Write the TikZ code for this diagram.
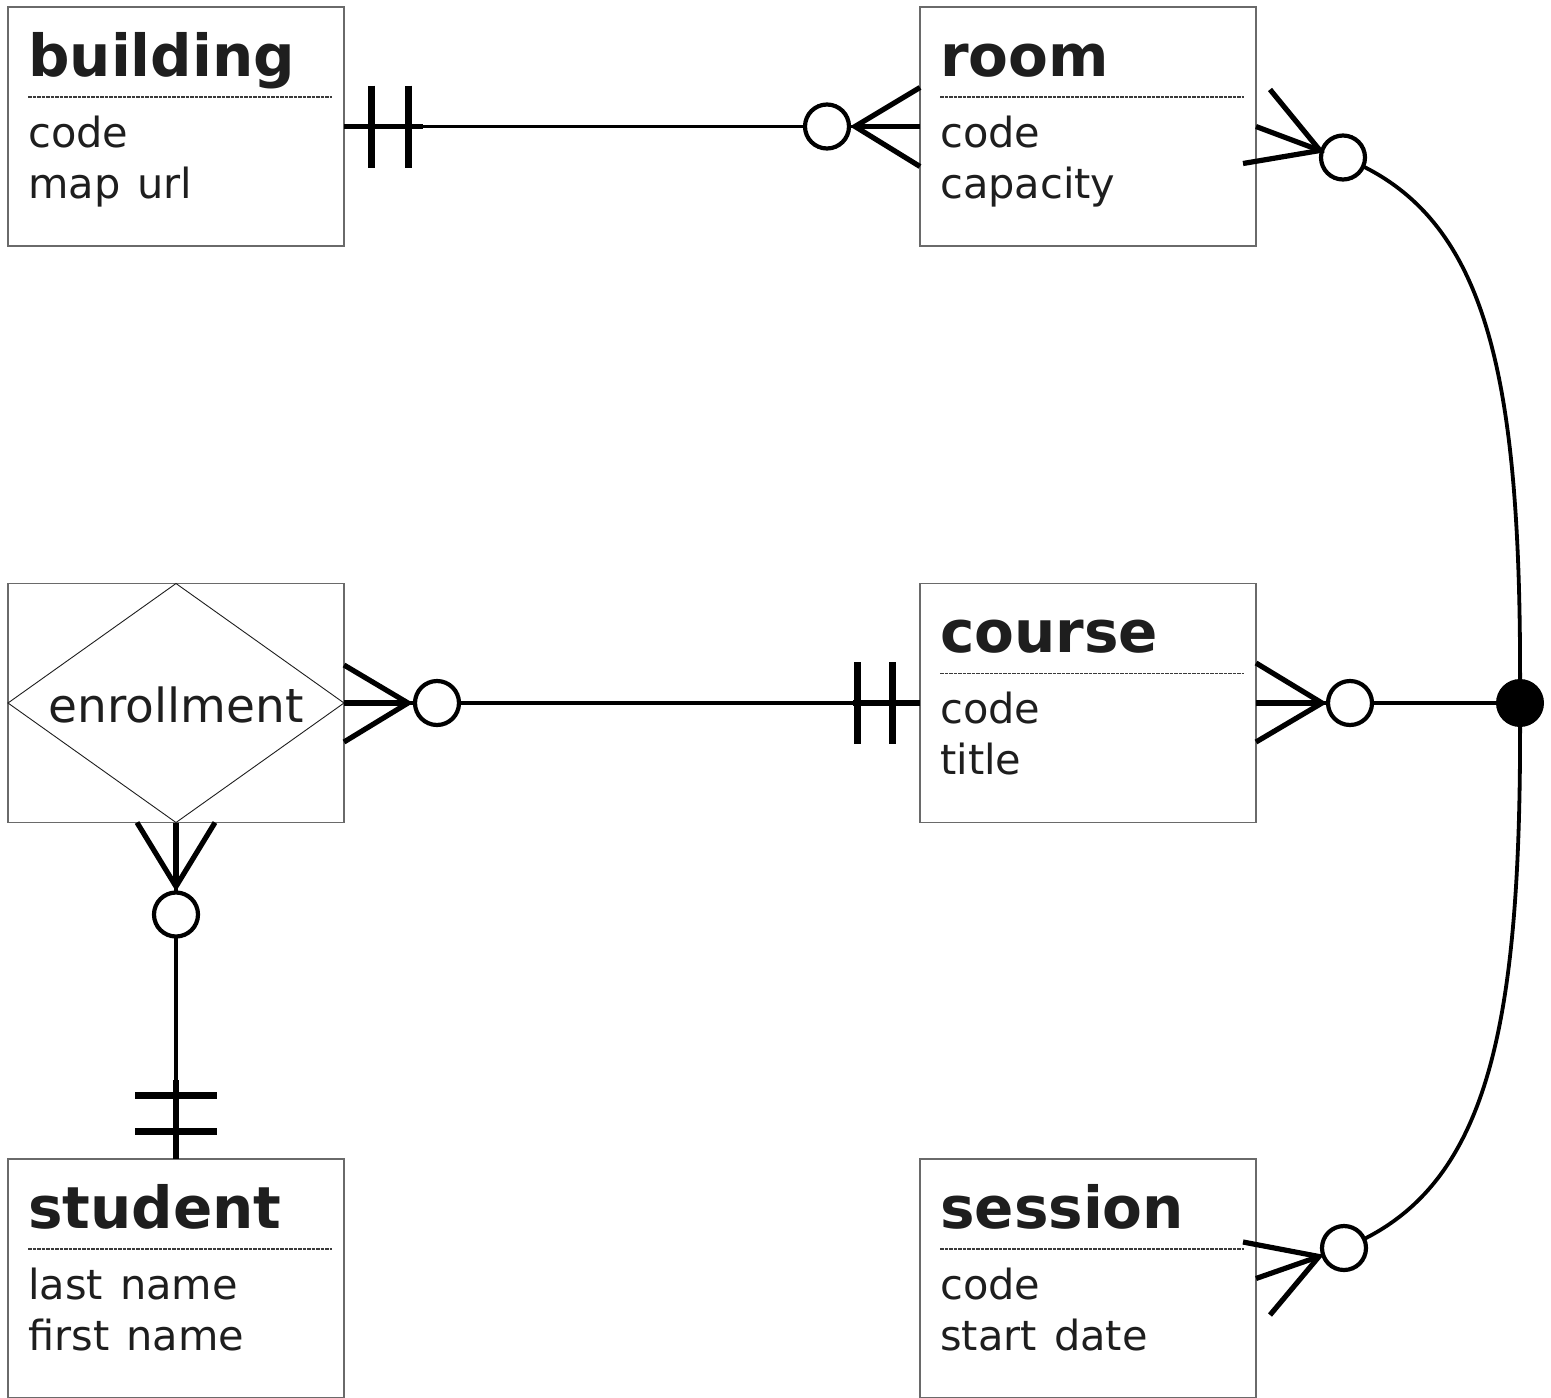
\documentclass[tikz,border=0pt]{standalone}
\usepackage{fontspec}
\setmainfont[WordSpace=1.3]{DejaVu Sans}
\usetikzlibrary{calc}
\definecolor{txt}{HTML}{1E1E1E}
\definecolor{frame}{HTML}{6A6A6A}
\definecolor{dashc}{HTML}{3A3A3A}
\begin{document}
\begin{tikzpicture}[x=1pt,y=-1pt,
 entity/.style={draw=frame,line width=1.3pt,minimum width=336pt,minimum height=239pt,inner sep=0pt,outer sep=0pt},
 etitle/.style={anchor=base west,inner sep=0pt,text=txt,font=\fontsize{58}{60}\selectfont\bfseries},
 eattr/.style={anchor=base west,inner sep=0pt,text=txt,font=\fontsize{41.5}{44}\selectfont},
 sepline/.style={draw=dashc,line width=1.1pt,dash pattern=on 3.5pt off 1pt},
 rel/.style={line width=3.8pt},
 relthick/.style={line width=5.4pt},
 bar/.style={line width=7pt},
 prong/.style={line width=5.2pt},
 ring/.style={circle,draw,line width=4.2pt,minimum size=44pt,inner sep=0pt,fill=white},
 hubdot/.style={circle,fill=black,minimum size=48pt,inner sep=0pt}]

\useasboundingbox (0,0) rectangle (1551,1398);

% ---------- entities ----------
\node[entity] (building) at (176,126.5) {};
\node[entity] (room) at (1088,126.5) {};
\node[entity] (enroll) at (176,703) {};
\node[entity] (course) at (1088,703) {};
\node[entity] (student) at (176,1278.5) {};
\node[entity] (session) at (1088,1278.5) {};

\newcommand{\entitytext}[4]{%
  \node[etitle] (#1-t) at ($(#1.north west)+(20,69)$) {#2};
  \draw[sepline] ($(#1.north west)+(20,90)$) -- ($(#1.north east)+(-12,90)$);
  \node[eattr] (#1-a) at ($(#1.north west)+(20,140)$) {#3};
  \node[eattr] (#1-b) at ($(#1.north west)+(20,191)$) {#4};
}
\entitytext{building}{building}{code}{map url}
\entitytext{room}{room}{code}{capacity}
\entitytext{course}{course}{code}{title}
\entitytext{student}{student}{last name}{first name}
\entitytext{session}{session}{code}{start date}

\draw[line width=0.9pt,draw=txt] (enroll.north) -- (enroll.east) -- (enroll.south) -- (enroll.west) -- cycle;
\node[eattr,anchor=base,font=\fontsize{47}{50}\selectfont] (enrolltext) at ($(enroll.center)+(0,19)$) {enrollment};

% ---------- hub ----------
\node[hubdot] (hub) at ($(course.east)+(264,0)$) {};

% ---------- main lines ----------
\draw[rel] (building.east) -- (room.west);
\draw[rel] (enroll.east) -- (course.west);
\draw[rel] (enroll.south) -- (student.north);
\draw[rel] (course.east) -- (hub);
\draw[rel] ($(room.east)+(87,31)$) .. controls ($(room.east)+(234,88.5)$) and ($(hub)+(2,-323)$) .. (hub.center);
\draw[rel] (hub.center) .. controls ($(hub)+(2,323)$) and ($(session.east)+(234,-88.5)$) .. ($(session.east)+(88,-30.5)$);

% ---------- mandatory-one bars ----------
\draw[relthick] (building.east) -- ++(79,0);
\draw[bar] ($(building.east)+(27,-41)$) -- ++(0,82);
\draw[bar] ($(building.east)+(64,-41)$) -- ++(0,82);

\draw[relthick] (course.west) -- ++(-67,0);
\draw[bar] ($(course.west)+(-63,-41)$) -- ++(0,82);
\draw[bar] ($(course.west)+(-28,-41)$) -- ++(0,82);

\draw[relthick] (student.north) -- ++(0,-79);
\draw[bar] ($(student.north)+(-41,-64)$) -- ++(82,0);
\draw[bar] ($(student.north)+(-41,-28)$) -- ++(82,0);

% ---------- rings ----------
\node[ring] (r-room) at ($(room.west)+(-93,0)$) {};
\node[ring] (r-enr1) at ($(enroll.east)+(93,0)$) {};
\node[ring] (r-enr2) at ($(enroll.south)+(0,92)$) {};
\node[ring] (r-course) at ($(course.east)+(94,0)$) {};
\node[ring] (r-room2) at ($(room.east)+(87,31)$) {};
\node[ring] (r-session) at ($(session.east)+(88,-30.5)$) {};

% ---------- crow's feet ----------
\coordinate (a1) at ($(room.west)+(-65,0)$);
\draw[prong] ($(room.west)+(0,-39)$) -- (a1) -- ($(room.west)+(0,40)$);
\draw[prong] (room.west) -- (a1);

\coordinate (a2) at ($(enroll.east)+(64,0)$);
\draw[prong] ($(enroll.east)+(0,-38)$) -- (a2) -- ($(enroll.east)+(0,39)$);
\draw[prong] (enroll.east) -- (a2);

\coordinate (a3) at ($(enroll.south)+(0,64)$);
\draw[prong] ($(enroll.south)+(-39,0)$) -- (a3) -- ($(enroll.south)+(39,0)$);
\draw[prong] (enroll.south) -- (a3);

\coordinate (a4) at ($(course.east)+(66,0)$);
\draw[prong] ($(course.east)+(0,-40)$) -- (a4) -- ($(course.east)+(0,39)$);
\draw[prong] (course.east) -- (a4);

\coordinate (a5) at ($(room.east)+(64,24)$);
\draw[prong] ($(room.east)+(14,-37)$) -- (a5) -- ($(room.east)+(-13,37)$);
\draw[prong] (room.east) -- (a5);

\coordinate (a6) at ($(session.east)+(63,-22)$);
\draw[prong] ($(session.east)+(-13,-36.5)$) -- (a6) -- ($(session.east)+(14,36.5)$);
\draw[prong] (session.east) -- (a6);

\end{tikzpicture}
\end{document}
